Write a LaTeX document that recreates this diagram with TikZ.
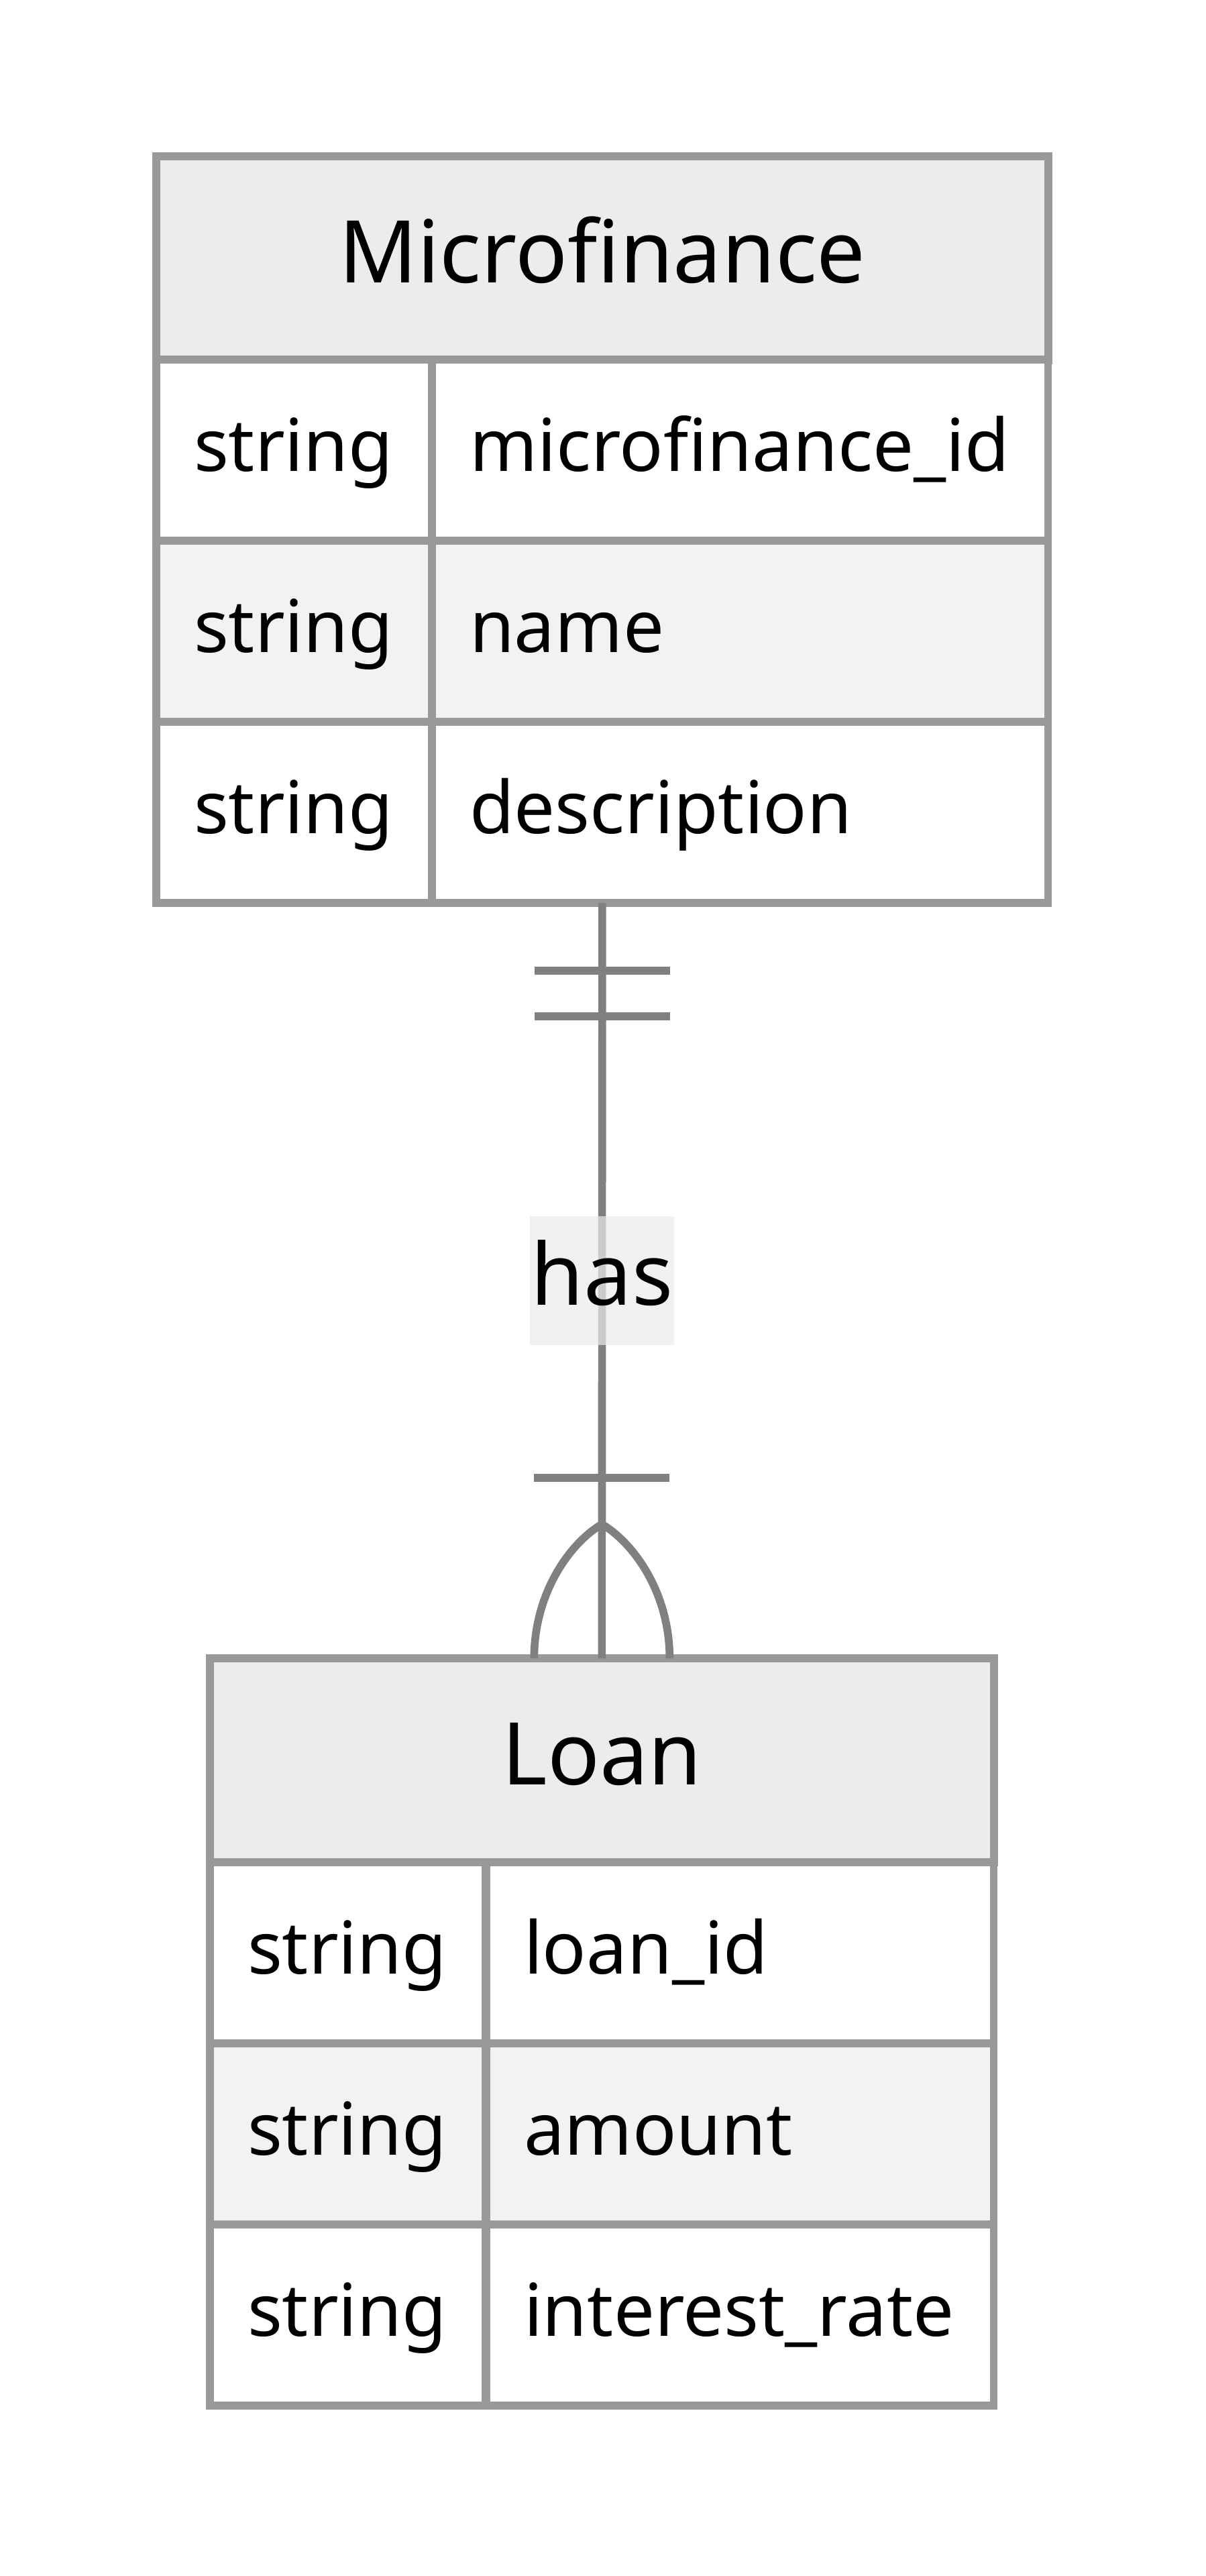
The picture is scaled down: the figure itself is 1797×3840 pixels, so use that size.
\documentclass[tikz,border=0pt]{standalone}
\usepackage{fontspec}
\setmainfont{Noto Sans}
\usepackage{tikz}
\usetikzlibrary{calc,fit}
\definecolor{tableline}{HTML}{999999}
\definecolor{headfill}{HTML}{ECECEC}
\definecolor{oddfill}{HTML}{F2F2F2}
\definecolor{relline}{HTML}{808080}

\tikzset{
  cell/.style={draw=tableline,line width=3.3pt,anchor=north west,outer sep=0pt,minimum height=2.7cm,
    inner xsep=0.56cm,inner ysep=0pt,align=left,font=\fontsize{30.8}{30.8}\selectfont,
    text height=0.9cm,text depth=0.27cm},
  typecell/.style={cell,text width=2.99cm},
  head/.style={draw=tableline,fill=headfill,line width=3.3pt,anchor=north west,outer sep=0pt,
    minimum height=3.04cm,inner sep=0pt,font=\fontsize{36.7}{36.7}\selectfont,
    text height=1.0cm,text depth=0.28cm},
  rel/.style={draw=relline,line width=3.3pt},
  rellabel/.style={fill=headfill,fill opacity=0.7,text opacity=1,inner xsep=0.02cm,outer sep=0pt,
    minimum height=1.92cm,font=\fontsize{36.3}{36.3}\selectfont,
    text height=0.98cm,text depth=0.26cm}
}

\begin{document}
\begin{tikzpicture}[x=0.01cm,y=-0.01cm]
\useasboundingbox[fill=white] (0,0) rectangle (1797,3840);

\node[head,minimum width=13.29cm] (mf) at (233,233) {Microfinance};
\foreach \kind/\field/\shade [count=\i] in {string/microfinance\_id/white,string/name/oddfill,string/description/white}{
  \node[typecell,fill=\shade] (mftype\i) at (233,{536+(\i-1)*270}) {\kind};
  \node[cell,text width=8.06cm,fill=\shade] (mfname\i) at (644,{536+(\i-1)*270}) {\field};
}
\node[fit=(mf)(mftype3)(mfname3),inner sep=0pt,outer sep=0pt] (mfbox) {};

\node[head,minimum width=11.68cm] (loan) at (313,2472) {Loan};
\foreach \kind/\field/\shade [count=\i] in {string/loan\_id/white,string/amount/oddfill,string/interest\_rate/white}{
  \node[typecell,fill=\shade] (loantype\i) at (313,{2776+(\i-1)*270}) {\kind};
  \node[cell,text width=6.44cm,fill=\shade] (loanname\i) at (725,{2776+(\i-1)*270}) {\field};
}

\draw[rel] (mfbox.south) -- (loan.north) node[midway,rellabel] (has) {has};
\draw[rel] ($(mfbox.south)+(-101,101)$) -- ++(202,0);
\draw[rel] ($(mfbox.south)+(-101,169)$) -- ++(202,0);
\draw[rel] ($(loan.north)+(-101,-269)$) -- ++(202,0);
\draw[rel] ($(loan.north)+(-101,0)$) .. controls ($(loan.north)+(-101,-95)$) and ($(loan.north)+(-50,-170)$) .. ($(loan.north)+(0,-200)$)
  .. controls ($(loan.north)+(50,-170)$) and ($(loan.north)+(101,-95)$) .. ($(loan.north)+(101,0)$);
\end{tikzpicture}
\end{document}
